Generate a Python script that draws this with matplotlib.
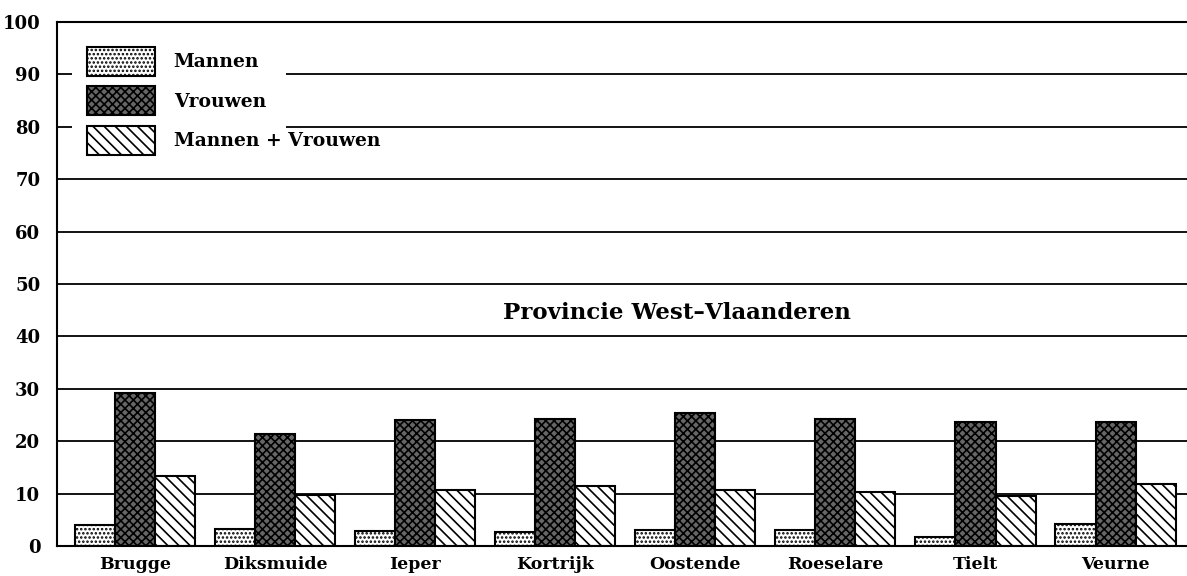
import numpy as np
import matplotlib.pyplot as plt
from matplotlib.patches import Rectangle

# Data
districts = ["Brugge", "Diksmuide", "Ieper", "Kortrijk", "Oostende",
             "Roeselare", "Tielt", "Veurne"]
mannen = [4.0, 3.2, 2.9, 2.7, 3.0, 3.0, 1.7, 4.2]
vrouwen = [29.2, 21.3, 24.0, 24.2, 25.4, 24.2, 23.6, 23.6]
mannen_vrouwen = [13.4, 9.7, 10.7, 11.5, 10.7, 10.3, 9.5, 11.8]
y_ticks = [0, 10, 20, 30, 40, 50, 60, 70, 80, 90, 100]
title = "Provincie West\u2013Vlaanderen"

plt.rcParams.update({
    "font.family": "DejaVu Serif",
    "font.weight": "bold",
    "hatch.linewidth": 1.2,
})

fig = plt.figure(figsize=(11.87, 5.76), dpi=100)
ax = fig.add_axes([0.048, 0.052, 0.952, 0.910])

x = np.arange(len(districts))
w = 0.286

# Grid lines (interrupted by the legend block at 80 and 90)
for yv in y_ticks[1:-1]:
    ax.axhline(yv, color="black", linewidth=1.3, zorder=1)
ax.add_patch(Rectangle((0.013, 0.73), 0.19, 0.22, transform=ax.transAxes,
                       facecolor="white", edgecolor="none", zorder=1.5))

ax.bar(x - w, mannen, w, facecolor="white", edgecolor="black",
       hatch="....", linewidth=1.5, zorder=2, label="Mannen")
ax.bar(x, vrouwen, w, facecolor="#666666", edgecolor="black",
       hatch="xxxx", linewidth=1.5, zorder=2, label="Vrouwen")
ax.bar(x + w, mannen_vrouwen, w, facecolor="white", edgecolor="black",
       hatch="\\\\\\", linewidth=1.5, zorder=2, label="Mannen + Vrouwen")

ax.set_xlim(-0.557, 7.51)
ax.set_ylim(0, 100)
ax.set_yticks(y_ticks)
ax.set_yticklabels([str(v) for v in y_ticks], fontsize=13, fontweight="bold")
ax.set_xticks(x)
ax.set_xticklabels(districts, fontsize=12.5, fontweight="bold")
ax.tick_params(axis="both", length=0, pad=7)
ax.tick_params(axis="y", pad=12)

ax.spines["right"].set_visible(False)
for s in ["left", "top", "bottom"]:
    ax.spines[s].set_linewidth(1.5)

ax.text(0.549, 0.445, title, transform=ax.transAxes, ha="center", va="center",
        fontsize=16.5, fontweight="bold")

fs = 13.5
leg = ax.legend(loc="upper left", bbox_to_anchor=(0.027, 0.952), frameon=False,
                fontsize=fs, handlelength=3.6, handleheight=2.0,
                handletextpad=1.0, labelspacing=0.55,
                borderpad=0, borderaxespad=0)
leg.set_zorder(3)

plt.savefig("out.png", dpi=100)
plt.close()
